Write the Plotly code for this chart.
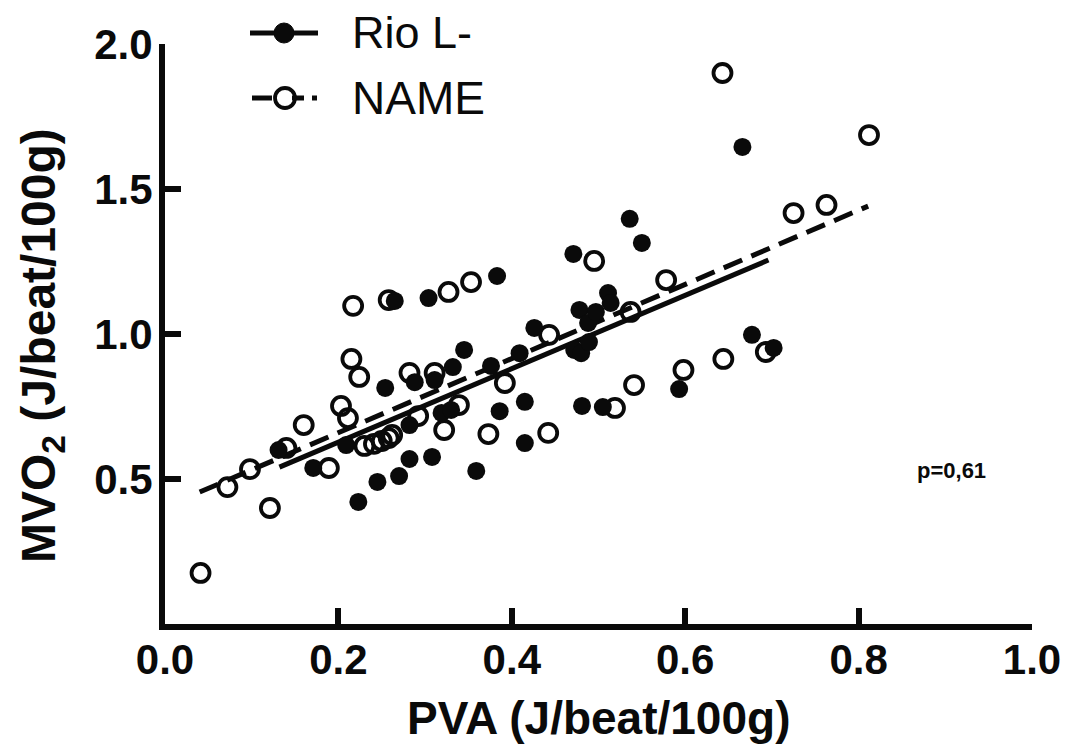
import plotly.graph_objects as go

# ---- data ----
rio_x = [0.131, 0.171, 0.209, 0.223, 0.245, 0.270, 0.282, 0.282, 0.254, 0.265,
         0.288, 0.304, 0.308, 0.311, 0.319, 0.330, 0.332, 0.345, 0.359, 0.376,
         0.383, 0.386, 0.409, 0.415, 0.415, 0.426, 0.471, 0.472, 0.480, 0.478,
         0.481, 0.488, 0.489, 0.497, 0.505, 0.511, 0.514, 0.536, 0.550, 0.593,
         0.666, 0.677, 0.702]
rio_y = [0.600, 0.538, 0.617, 0.421, 0.490, 0.510, 0.569, 0.686, 0.814, 1.114,
         0.834, 1.124, 0.576, 0.841, 0.728, 0.738, 0.886, 0.945, 0.528, 0.890,
         1.200, 0.734, 0.934, 0.766, 0.624, 1.021, 1.276, 0.945, 0.934, 1.083,
         0.752, 1.038, 0.972, 1.076, 0.748, 1.141, 1.107, 1.397, 1.314, 0.810,
         1.645, 0.997, 0.952]

name_x = [0.041, 0.072, 0.098, 0.121, 0.140, 0.160, 0.189, 0.203, 0.211, 0.215,
          0.217, 0.224, 0.230, 0.241, 0.250, 0.258, 0.262, 0.258, 0.282, 0.292,
          0.311, 0.322, 0.327, 0.339, 0.353, 0.373, 0.392, 0.443, 0.442, 0.495,
          0.519, 0.537, 0.541, 0.578, 0.598, 0.643, 0.644, 0.693, 0.725, 0.763,
          0.812]
name_y = [0.176, 0.472, 0.534, 0.400, 0.607, 0.686, 0.538, 0.752, 0.710, 0.914,
          1.097, 0.852, 0.614, 0.621, 0.631, 0.641, 0.652, 1.117, 0.866, 0.717,
          0.866, 0.669, 1.145, 0.755, 1.179, 0.655, 0.831, 0.997, 0.659, 1.252,
          0.745, 1.076, 0.824, 1.186, 0.876, 1.900, 0.914, 0.938, 1.417, 1.445,
          1.686]

# regression line end points
rio_fit_x = [0.132, 0.696]
rio_fit_y = [0.541, 1.255]
name_fit_x = [0.040, 0.811]
name_fit_y = [0.455, 1.441]

x_ticks = [0.0, 0.2, 0.4, 0.6, 0.8, 1.0]
x_ticktext = ["0.0", "0.2", "0.4", "0.6", "0.8", "1.0"]
y_ticks = [0.5, 1.0, 1.5, 2.0]
y_ticktext = ["0.5", "1.0", "1.5", "2.0"]

x_title = "PVA (J/beat/100g)"
y_title = "MVO<sub>2</sub> (J/beat/100g)"

FONT = "Liberation Sans, Arial, sans-serif"
BLACK = "#0a0a0a"

fig = go.Figure()

fig.add_trace(go.Scatter(x=rio_fit_x, y=rio_fit_y, mode="lines",
                         line=dict(color=BLACK, width=5), showlegend=False,
                         hoverinfo="skip"))
fig.add_trace(go.Scatter(x=name_fit_x, y=name_fit_y, mode="lines",
                         line=dict(color=BLACK, width=5, dash="20px,10px"),
                         showlegend=False, hoverinfo="skip"))
fig.add_trace(go.Scatter(x=name_x, y=name_y, mode="markers", name="NAME",
                         marker=dict(symbol="circle-open", size=18, color=BLACK,
                                     line=dict(width=3.8, color=BLACK)),
                         showlegend=False))
fig.add_trace(go.Scatter(x=rio_x, y=rio_y, mode="markers", name="Rio L-",
                         marker=dict(symbol="circle", size=18, color=BLACK),
                         showlegend=False))

W, H = 1065, 752
L, R, T, B = 165, 33, 44, 128
pw, ph = W - L - R, H - T - B


def px2paper(px, py):
    return (px - L) / pw, (H - B - py) / ph


shapes = []
annotations = []

# manual legend
# row 1 : solid line with filled circle
x0, y0 = px2paper(250, 33)
x1, _ = px2paper(318, 33)
shapes.append(dict(type="line", xref="paper", yref="paper", x0=x0, x1=x1, y0=y0, y1=y0,
                   line=dict(color=BLACK, width=5)))
cx, cy = px2paper(284, 33)
rx, ry = 10 / pw, 10 / ph
shapes.append(dict(type="circle", xref="paper", yref="paper", x0=cx - rx, x1=cx + rx,
                   y0=cy - ry, y1=cy + ry, fillcolor=BLACK, line=dict(color=BLACK, width=1)))
lx, ly = px2paper(350, 33)
annotations.append(dict(text="Rio L-", xref="paper", yref="paper", x=lx, y=ly,
                        xanchor="left", yanchor="middle", showarrow=False,
                        font=dict(family=FONT, size=45, color=BLACK)))
# row 2 : dashed line with open circle
for a, b in [(252, 272), (292, 304)]:
    xa, ya = px2paper(a, 98)
    xb, _ = px2paper(b, 98)
    shapes.append(dict(type="line", xref="paper", yref="paper", x0=xa, x1=xb, y0=ya, y1=ya,
                       line=dict(color=BLACK, width=5)))
xa, ya = px2paper(312, 98)
xb, _ = px2paper(317, 98)
shapes.append(dict(type="line", xref="paper", yref="paper", x0=xa, x1=xb, y0=ya, y1=ya,
                   line=dict(color=BLACK, width=5)))
cx, cy = px2paper(285, 98)
shapes.append(dict(type="circle", xref="paper", yref="paper", x0=cx - rx, x1=cx + rx,
                   y0=cy - ry, y1=cy + ry, fillcolor="rgba(0,0,0,0)",
                   line=dict(color=BLACK, width=3.8)))
lx, ly = px2paper(350, 98)
annotations.append(dict(text="NAME", xref="paper", yref="paper", x=lx, y=ly,
                        xanchor="left", yanchor="middle", showarrow=False,
                        font=dict(family=FONT, size=46, color=BLACK)))

# p-value
px_, py_ = px2paper(951, 470)
annotations.append(dict(text="p=0,61", xref="paper", yref="paper", x=px_, y=py_,
                        xanchor="center", yanchor="middle", showarrow=False,
                        font=dict(family=FONT, size=22, color=BLACK, weight="bold")))

# axis titles
tx, ty = px2paper(598, 718)
annotations.append(dict(text=x_title, xref="paper", yref="paper", x=tx, y=ty,
                        xanchor="center", yanchor="middle", showarrow=False,
                        font=dict(family=FONT, size=46, color=BLACK, weight="bold")))
tx, ty = px2paper(42, 346)
annotations.append(dict(text=y_title, xref="paper", yref="paper", x=tx, y=ty,
                        xanchor="center", yanchor="middle", showarrow=False,
                        textangle=-90,
                        font=dict(family=FONT, size=48, color=BLACK, weight="bold")))

fig.update_layout(
    width=W, height=H,
    margin=dict(l=L, r=R, t=T, b=B, pad=0, autoexpand=False),
    paper_bgcolor="white", plot_bgcolor="white",
    shapes=shapes, annotations=annotations,
    showlegend=False,
    xaxis=dict(range=[0, 1.0], tickvals=x_ticks, ticktext=x_ticktext,
               automargin=False,
               showgrid=False, zeroline=False, showline=True, linewidth=6,
               linecolor=BLACK, ticks="inside", ticklen=16, tickwidth=6,
               tickcolor=BLACK, ticklabelstandoff=-6,
               tickfont=dict(family=FONT, size=42, color=BLACK, weight="bold")),
    yaxis=dict(range=[0, 2.0], tickvals=y_ticks, ticktext=y_ticktext,
               automargin=False,
               showgrid=False, zeroline=False, showline=True, linewidth=6,
               linecolor=BLACK, ticks="inside", ticklen=16, tickwidth=6,
               tickcolor=BLACK, ticklabelstandoff=-2,
               tickfont=dict(family=FONT, size=42, color=BLACK, weight="bold")),
)

fig.write_html("out.html")
